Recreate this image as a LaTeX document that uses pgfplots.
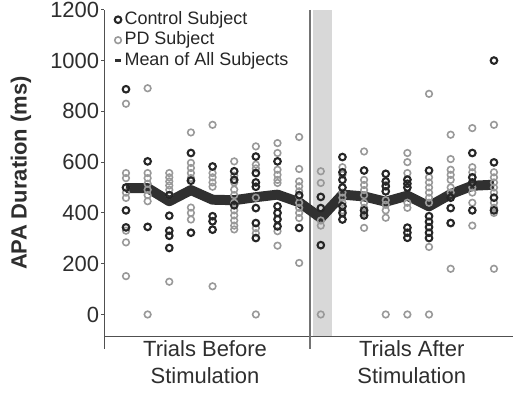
\documentclass[border=0pt]{standalone}
\usepackage{pgfplots}
\pgfplotsset{compat=1.18}
\usepackage{pgfplotstable}
\usepackage{fontspec}
\setmainfont{Liberation Sans}

\definecolor{ctrl}{HTML}{262626}
\definecolor{pd}{HTML}{999999}
\definecolor{meanc}{HTML}{303030}
\definecolor{axisc}{HTML}{505050}
\definecolor{bandc}{HTML}{D8D8D8}

\pgfplotsset{
  dotlegend/.style={legend image code/.code={\draw[##1] plot coordinates {(3.4pt,0pt)};}},
  dashlegend/.style={legend image code/.code={\draw[##1] (0.6pt,0pt) -- (6.2pt,0pt);}},
  ctrlmarks/.style={only marks, mark=o, mark size=3.3pt, ctrl, mark options={line width=2.1pt}},
  pdmarks/.style={only marks, mark=o, mark size=3.3pt, pd, mark options={line width=1.6pt}},
}

% APA durations (ms); x = trial index, 1-9 before and 10-18 after stimulation
\pgfplotstableread{
x y
1 887
1 500
1 410
1 343
2 603
2 345
3 470
3 389
3 330
3 310
3 262
4 636
4 527
4 322
5 583
5 387
5 367
5 334
6 564
6 530
6 430
7 622
7 557
7 520
7 503
7 419
7 360
7 301
8 603
8 426
8 400
8 375
8 347
9 470
9 341
10 463
10 419
10 273
11 620
11 560
11 530
11 500
11 426
11 400
11 374
12 567
12 410
12 390
13 554
13 524
13 505
13 485
14 531
14 515
14 500
14 342
14 322
14 302
15 567
15 387
15 365
15 344
15 322
15 301
16 460
16 419
16 360
17 636
17 540
17 520
17 410
18 1000
18 599
18 460
18 410
}\controltab

\pgfplotstableread{
x y
1 830
1 557
1 537
1 500
1 480
1 459
1 330
1 284
1 151
2 891
2 557
2 537
2 515
2 491
2 470
2 446
2 0
3 557
3 540
3 524
3 508
3 491
3 470
3 129
4 717
4 597
4 577
4 557
4 537
4 421
4 400
4 374
5 747
5 557
5 540
5 520
5 503
5 111
6 603
6 547
6 520
6 492
6 470
6 440
6 410
6 390
6 370
6 350
6 335
7 662
7 590
7 575
7 460
7 340
7 320
7 0
8 675
8 636
8 570
8 550
8 530
8 518
8 328
8 271
9 699
9 573
9 524
9 505
9 485
9 465
9 440
9 420
9 400
9 380
9 203
10 564
10 518
10 370
10 350
10 0
11 580
11 550
11 480
11 460
11 440
11 410
12 642
12 530
12 510
12 490
12 470
12 440
12 420
12 400
12 341
13 510
13 450
13 432
13 410
13 381
13 0
14 636
14 600
14 557
14 530
14 440
14 420
14 0
15 869
15 540
15 520
15 500
15 480
15 460
15 440
15 266
15 0
16 708
16 612
16 570
16 550
16 530
16 500
16 480
16 360
16 180
17 734
17 580
17 560
17 540
17 500
17 480
17 440
17 350
18 747
18 560
18 540
18 520
18 500
18 480
18 440
18 420
18 400
18 180
}\pdtab

\pgfplotstableread{
x y
1 498
2 498
3 446
4 490
5 452
6 450
7 462
8 472
9 442
10 380
11 472
12 465
13 444
14 468
15 426
16 474
17 507
18 511
}\meantab

\begin{document}
\begin{tikzpicture}
\begin{axis}[
  scale only axis,
  width=409.7pt, height=327pt,
  xmin=0, xmax=18.9,
  ymin=-86, ymax=1200,
  clip=false,
  axis x line*=bottom,
  axis y line*=left,
  axis line style={axisc, line width=1.1pt},
  ytick={0,200,...,1200},
  ytick style={axisc, line width=0.9pt},
  tick align=outside,
  major tick length=3pt,
  yticklabel style={font=\fontsize{22}{22}\selectfont, text=black!82, inner sep=2pt},
  /pgf/number format/assume math mode=true,
  /pgf/number format/1000 sep={},
  xtick={4.65,14.2},
  xticklabels={{Trials Before\\Stimulation},{Trials After\\Stimulation}},
  xtick style={draw=none},
  xticklabel style={font=\fontsize{22}{27}\selectfont, align=center, text=black!82, inner sep=1pt},
  ylabel={\bfseries APA Duration (ms)},
  ylabel style={font=\fontsize{22}{22}\selectfont, text=black!82,
    at={(axis description cs:-0.170,0.5)}, anchor=south},
  legend style={draw=none, fill=none, at={(axis description cs:0.022,1.0)},
    anchor=north west, font=\fontsize{18}{18}\selectfont, text=black!85,
    inner sep=0pt, row sep=1pt, column sep=1.5pt,
    nodes={inner sep=0.5pt, text height=14pt, text depth=4.5pt}},
  legend cell align=left,
]
% stimulation period band and divider
\fill[bandc] (axis cs:9.62,-86) rectangle (axis cs:10.5,1200);
\draw[axisc!80, line width=1.3pt] (axis cs:9.5,1200) -- ([yshift=-13pt]axis cs:9.5,-86);
\draw[axisc, line width=1.1pt] (axis cs:0,-86) -- ([yshift=-13pt]axis cs:0,-86);

\addlegendimage{ctrlmarks, dotlegend}
\addlegendentry{Control Subject}
\addlegendimage{pdmarks, dotlegend}
\addlegendentry{PD Subject}
\addlegendimage{meanc, line width=3.4pt, dashlegend}
\addlegendentry{Mean of All Subjects}

\addplot[forget plot, pdmarks] table[x=x, y=y] {\pdtab};
\addplot[forget plot, ctrlmarks] table[x=x, y=y] {\controltab};
\addplot[forget plot, meanc, line width=10pt, line join=round, line cap=butt, mark=none]
  table[x=x, y=y] {\meantab};

\coordinate (bl) at (rel axis cs:0,0);
\coordinate (tr) at (rel axis cs:1,1);
\end{axis}
\useasboundingbox ([xshift=-104.5pt,yshift=-58pt]bl) rectangle ([yshift=9.8pt]tr);
\end{tikzpicture}
\end{document}
